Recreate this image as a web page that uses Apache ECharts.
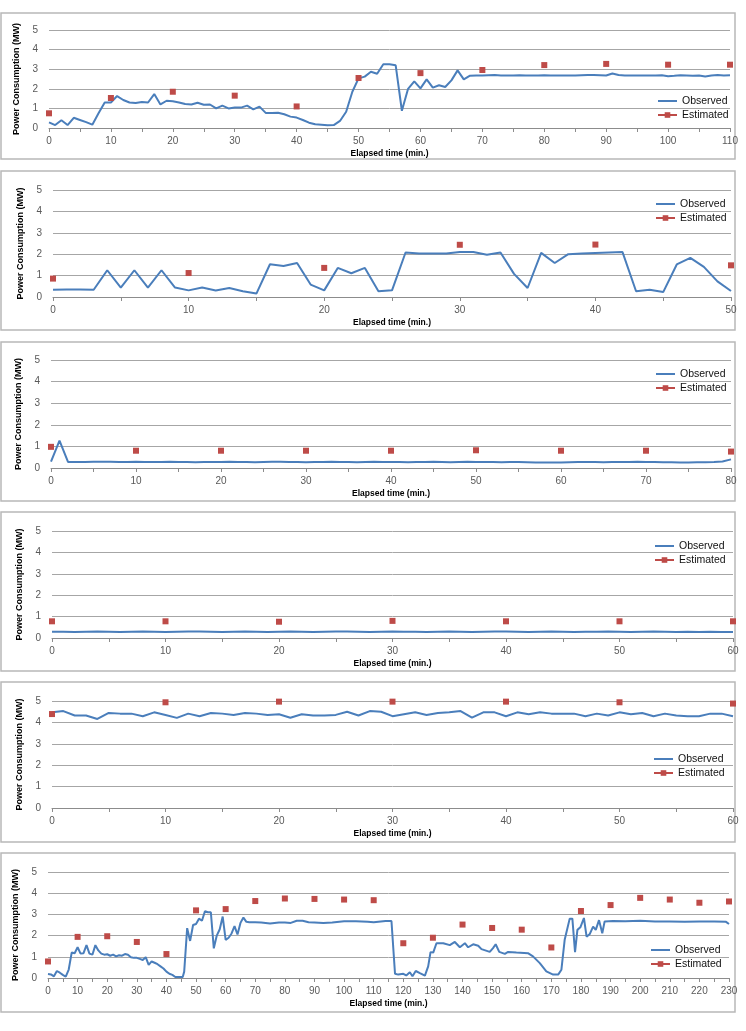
<!DOCTYPE html>
<html>
<head>
<meta charset="utf-8">
<script src="https://cdn.jsdelivr.net/npm/echarts@6/dist/echarts.min.js"></script>
<style>
  html, body { margin: 0; padding: 0; background: #fff; }
  #chart { width: 746px; height: 1031px; }
</style>
</head>
<body>
<div id="chart"></div>
<script>
'use strict';

// ---- data (MW, one observed value per minute unless a time list is given) ----
var p1Observed = [0.29, 0.15, 0.40, 0.15, 0.52, 0.41, 0.30, 0.17, 0.75, 1.30,
    1.30, 1.63, 1.43, 1.30, 1.28, 1.33, 1.30, 1.73, 1.20, 1.39,
    1.36, 1.30, 1.22, 1.20, 1.29, 1.19, 1.20, 1.00, 1.14, 1.00,
    1.04, 1.04, 1.14, 0.95, 1.09, 0.77, 0.77, 0.78, 0.70, 0.58,
    0.53, 0.41, 0.27, 0.19, 0.17, 0.14, 0.15, 0.36, 0.83, 1.85,
    2.53, 2.62, 2.87, 2.77, 3.25, 3.25, 3.20, 0.88, 2.00, 2.38,
    2.02, 2.48, 2.06, 2.18, 2.09, 2.43, 2.94, 2.48, 2.67, 2.68,
    2.68, 2.69, 2.70, 2.68, 2.68, 2.68, 2.69, 2.68, 2.68, 2.68,
    2.69, 2.68, 2.68, 2.68, 2.68, 2.68, 2.69, 2.70, 2.70, 2.69,
    2.68, 2.78, 2.70, 2.68, 2.68, 2.68, 2.68, 2.68, 2.68, 2.69,
    2.64, 2.66, 2.69, 2.68, 2.67, 2.68, 2.63, 2.68, 2.70, 2.68,
    2.69];
var p1EstTime = [0, 10, 20, 30, 40, 50, 60, 70, 80, 90, 100, 110];
var p1Estimated = [0.75, 1.53, 1.85, 1.65, 1.10, 2.55, 2.80, 2.96, 3.21, 3.27, 3.23, 3.23];

var p2Observed = [0.34, 0.35, 0.35, 0.34, 1.25, 0.44, 1.25, 0.44, 1.25, 0.44,
    0.31, 0.44, 0.30, 0.42, 0.27, 0.16, 1.53, 1.45, 1.59, 0.58,
    0.31, 1.36, 1.11, 1.36, 0.27, 0.31, 2.08, 2.03, 2.03, 2.03,
    2.10, 2.10, 1.97, 2.08, 1.08, 0.42, 2.06, 1.59, 2.00, 2.03,
    2.06, 2.08, 2.10, 0.27, 0.34, 0.23, 1.52, 1.83, 1.41, 0.73,
    0.28];
var p2EstTime = [0, 10, 20, 30, 40, 50];
var p2Estimated = [0.86, 1.12, 1.36, 2.44, 2.45, 1.48];

var p3Observed = [0.30, 1.27, 0.28,
    0.28, 0.28, 0.29, 0.29, 0.29, 0.28, 0.28, 0.29, 0.28, 0.28,
    0.28, 0.29, 0.28, 0.28, 0.27, 0.28, 0.28, 0.28, 0.29, 0.28,
    0.28, 0.27, 0.28, 0.29, 0.29, 0.28, 0.28, 0.27, 0.28, 0.28,
    0.29, 0.28, 0.28, 0.27, 0.28, 0.29, 0.28, 0.28, 0.28, 0.27,
    0.28, 0.28, 0.29, 0.28, 0.27, 0.28, 0.29, 0.28, 0.28, 0.28,
    0.27, 0.28, 0.28, 0.27, 0.26, 0.26, 0.25, 0.26, 0.27, 0.28,
    0.28, 0.28, 0.27, 0.28, 0.28, 0.28, 0.29, 0.28, 0.28, 0.27,
    0.27, 0.26, 0.26, 0.27, 0.27, 0.28, 0.30, 0.40];
var p3EstTime = [0, 10, 20, 30, 40, 50, 60, 70, 80];
var p3Estimated = [0.98, 0.80, 0.80, 0.80, 0.80, 0.82, 0.80, 0.80, 0.76];

var p4Observed = [0.29, 0.29, 0.28, 0.29, 0.30, 0.29, 0.28, 0.29, 0.30, 0.29,
    0.28, 0.29, 0.30, 0.30, 0.29, 0.28, 0.29, 0.30, 0.29, 0.28,
    0.29, 0.30, 0.29, 0.28, 0.29, 0.30, 0.30, 0.29, 0.28, 0.29,
    0.30, 0.29, 0.29, 0.28, 0.29, 0.30, 0.29, 0.28, 0.29, 0.30,
    0.30, 0.29, 0.28, 0.29, 0.30, 0.29, 0.28, 0.29, 0.29, 0.30,
    0.29, 0.28, 0.29, 0.30, 0.29, 0.28, 0.29, 0.28, 0.29, 0.28,
    0.28];
var p4EstTime = [0, 10, 20, 30, 40, 50, 60];
var p4Estimated = [0.78, 0.78, 0.76, 0.80, 0.78, 0.78, 0.78];

var p5Observed = [4.47, 4.53, 4.32, 4.32, 4.16, 4.44, 4.41, 4.41, 4.29, 4.47,
    4.35, 4.21, 4.41, 4.29, 4.44, 4.41, 4.35, 4.44, 4.41, 4.35,
    4.38, 4.22, 4.38, 4.32, 4.32, 4.35, 4.50, 4.32, 4.53, 4.50,
    4.29, 4.38, 4.47, 4.35, 4.44, 4.47, 4.53, 4.22, 4.47, 4.47,
    4.29, 4.47, 4.38, 4.47, 4.41, 4.41, 4.41, 4.29, 4.41, 4.32,
    4.47, 4.38, 4.44, 4.29, 4.41, 4.32, 4.29, 4.29, 4.41, 4.41,
    4.29];
var p5EstTime = [0, 10, 20, 30, 40, 50, 60];
var p5Estimated = [4.39, 4.94, 4.97, 4.97, 4.97, 4.94, 4.88];

var p6Time = [0, 1, 2, 3, 4, 5, 6, 7, 8, 9,
    10, 11, 12, 13, 14, 15, 16, 17, 18, 19,
    20, 21, 22, 23, 24, 25, 26, 27, 28, 29,
    30, 31, 32, 33, 34, 35, 36, 37, 38, 39,
    40, 41, 42, 43, 44, 45.5, 46, 47, 48, 49,
    50, 51, 52, 53, 54, 55, 56, 57, 58, 59,
    60, 61, 62, 63, 64, 65, 66, 67, 68, 70,
    72, 75, 78, 80, 82, 84, 86, 88, 90, 93,
    96, 100, 104, 108, 110, 114, 116, 117.2, 118.3, 120,
    121, 122.2, 123.1, 124.2, 125.6, 127.3, 128.4, 129.2, 130.1, 131.2,
    133.5, 135.7, 137.4, 139.1, 140.8, 141.9, 143.6, 145.3, 146.4, 149.2,
    150.3, 151.2, 152.4, 154.3, 155.4, 158.2, 162.1, 163.8, 166.1, 168.3,
    170.6, 172.3, 173.4, 174.5, 176.2, 177.1, 178, 178.8, 179.8, 181,
    181.9, 183, 184.1, 185, 186.1, 187.2, 188, 190.8, 195, 200,
    205, 210, 215, 220, 225, 229, 230];
var p6Observed = [0.19, 0.17, 0.08, 0.33, 0.25, 0.15, 0.06, 0.40, 1.20, 1.17,
    1.45, 1.15, 1.17, 1.55, 1.15, 1.10, 1.55, 1.30, 1.15, 1.10,
    1.12, 1.05, 1.10, 1.02, 1.07, 1.05, 1.13, 1.10, 0.98, 0.95,
    0.95, 0.90, 0.85, 0.98, 0.62, 0.78, 0.72, 0.65, 0.55, 0.45,
    0.30, 0.20, 0.15, 0.05, 0.05, 0.05, 0.30, 2.35, 1.75, 2.50,
    2.55, 2.80, 2.70, 3.15, 3.10, 3.10, 1.40, 2.00, 2.30, 2.90,
    1.80, 1.90, 2.10, 2.45, 2.05, 2.60, 2.85, 2.65, 2.63, 2.63,
    2.62, 2.57, 2.62, 2.62, 2.60, 2.70, 2.70, 2.63, 2.62, 2.60,
    2.62, 2.68, 2.68, 2.65, 2.63, 2.69, 2.69, 0.20, 0.16, 0.20,
    0.12, 0.27, 0.08, 0.33, 0.23, 0.11, 0.55, 1.22, 1.20, 1.64,
    1.64, 1.55, 1.70, 1.45, 1.64, 1.45, 1.59, 1.52, 1.36, 1.23,
    1.41, 1.59, 1.23, 1.14, 1.23, 1.20, 1.17, 1.02, 0.70, 0.31,
    0.16, 0.16, 0.39, 1.80, 2.80, 2.80, 1.22, 2.27, 2.39, 2.83,
    1.95, 2.08, 2.42, 2.27, 2.73, 2.11, 2.67, 2.69, 2.68, 2.70,
    2.67, 2.66, 2.65, 2.66, 2.67, 2.65, 2.55];
var p6EstTime = [0, 10, 20, 30, 40, 50, 60, 70, 80, 90, 100, 110,
    120, 130, 140, 150, 160, 170, 180, 190, 200, 210, 220, 230];
var p6Estimated = [0.78, 1.94, 1.97, 1.70, 1.13, 3.19, 3.25, 3.63, 3.75, 3.73, 3.70, 3.67,
    1.64, 1.90, 2.52, 2.36, 2.28, 1.44, 3.16, 3.44, 3.78, 3.70, 3.55, 3.61];

// ---- layout of the six panels ----
var panels = [
    {obs: p1Observed, estTime: p1EstTime, est: p1Estimated, max: 110,
     grid: {left: 49, top: 30, width: 681, height: 98}, frame: [13, 146], legend: [657, 95]},
    {obs: p2Observed, estTime: p2EstTime, est: p2Estimated, max: 50,
     grid: {left: 53, top: 190, width: 678, height: 107}, frame: [171, 159], legend: [655, 198]},
    {obs: p3Observed, estTime: p3EstTime, est: p3Estimated, max: 80,
     grid: {left: 51, top: 360, width: 680, height: 108}, frame: [342, 159], legend: [655, 368]},
    {obs: p4Observed, estTime: p4EstTime, est: p4Estimated, max: 60,
     grid: {left: 52, top: 531, width: 681, height: 107}, frame: [512, 159], legend: [654, 540]},
    {obs: p5Observed, estTime: p5EstTime, est: p5Estimated, max: 60,
     grid: {left: 52, top: 701, width: 681, height: 107}, frame: [682, 160], legend: [653, 753]},
    {time: p6Time, obs: p6Observed, estTime: p6EstTime, est: p6Estimated, max: 230,
     grid: {left: 48, top: 872, width: 681, height: 106}, frame: [853, 159], legend: [650, 944]}
];

var BLUE = '#4A7EBB';
var RED = '#BE4B48';
var FONT = 'Liberation Sans';

var grids = [], xAxes = [], yAxes = [], series = [], legends = [], frames = [];

panels.forEach(function (p, i) {
    grids.push(p.grid);

    xAxes.push({
        type: 'value', gridIndex: i, min: 0, max: p.max, interval: 10,
        name: 'Elapsed time (min.)', nameLocation: 'middle', nameGap: 21,
        nameTextStyle: {fontFamily: FONT, fontWeight: 'bold', fontSize: 8.5, color: '#000'},
        axisLine: {lineStyle: {color: '#8c8c8c', width: 1}},
        axisTick: {show: true, length: 4, lineStyle: {color: '#8c8c8c'}},
        minorTick: {show: true, splitNumber: 2, length: 4, lineStyle: {color: '#8c8c8c'}},
        splitLine: {show: false},
        axisLabel: {fontFamily: FONT, fontSize: 10, color: '#595959', margin: 8}
    });

    yAxes.push({
        type: 'value', gridIndex: i, min: 0, max: 5, interval: 1,
        name: 'Power Consumption (MW)', nameLocation: 'middle', nameGap: 28,
        nameTextStyle: {fontFamily: FONT, fontWeight: 'bold', fontSize: 9, color: '#000'},
        axisLine: {show: false},
        axisTick: {show: false},
        splitLine: {lineStyle: {color: '#a6a6a6', width: 1}},
        axisLabel: {fontFamily: FONT, fontSize: 10, color: '#595959', margin: 11}
    });

    var times = p.time || p.obs.map(function (v, k) { return k; });
    series.push({
        name: 'Observed', type: 'line', xAxisIndex: i, yAxisIndex: i,
        data: p.obs.map(function (v, k) { return [times[k], v]; }),
        symbol: 'none', lineStyle: {color: BLUE, width: 2}, itemStyle: {color: BLUE}
    });
    series.push({
        name: 'Estimated', type: 'line', xAxisIndex: i, yAxisIndex: i,
        data: p.est.map(function (v, k) { return [p.estTime[k], v]; }),
        symbol: 'rect', symbolSize: 6, lineStyle: {opacity: 0},
        itemStyle: {color: RED}
    });

    legends.push({
        data: [
            {name: 'Observed', itemStyle: {opacity: 0}},
            {name: 'Estimated'}
        ],
        orient: 'vertical',
        left: p.legend[0], top: p.legend[1], padding: 0, itemGap: 2,
        itemWidth: 19, itemHeight: 7,
        lineStyle: {opacity: 1, width: 2},
        textStyle: {fontFamily: FONT, fontSize: 10.5, color: '#111', lineHeight: 12}
    });

    frames.push({
        type: 'rect', silent: true,
        shape: {x: 1, y: p.frame[0], width: 734, height: p.frame[1]},
        style: {fill: 'none', stroke: '#b8b8b8', lineWidth: 1.5}
    });
});

var myChart = echarts.init(document.getElementById('chart'), null, {renderer: 'canvas'});

var option = {
    animation: false,
    backgroundColor: '#fff',
    textStyle: {fontFamily: FONT},
    graphic: frames,
    grid: grids,
    xAxis: xAxes,
    yAxis: yAxes,
    legend: legends,
    series: series
};

myChart.setOption(option);
</script>
</body>
</html>
